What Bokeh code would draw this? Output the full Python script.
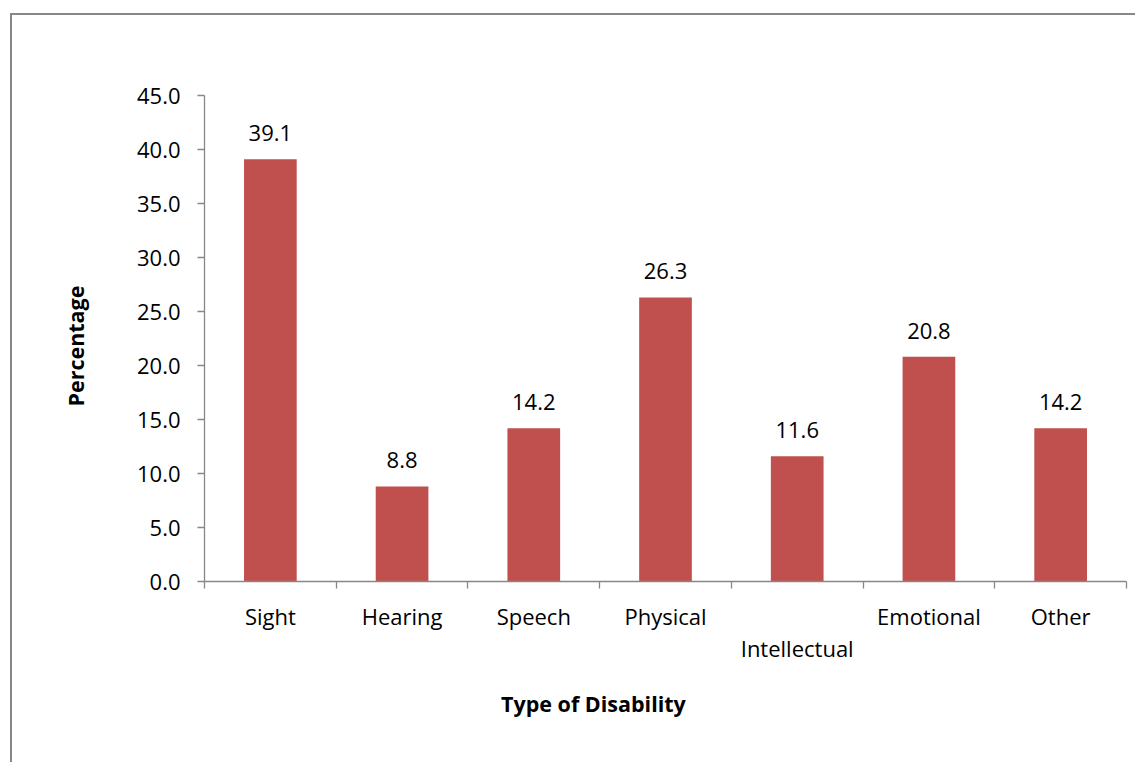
from bokeh.plotting import figure
from bokeh.models import (Range1d, FixedTicker, NumeralTickFormatter, ColumnDataSource, LinearAxis)
from bokeh.core.properties import value
from bokeh.embed import file_html
from bokeh.resources import INLINE

categories = ["Sight", "Hearing", "Speech", "Physical", "Intellectual", "Emotional", "Other"]
percentages = [39.1, 8.8, 14.2, 26.3, 11.6, 20.8, 14.2]
value_labels = ["39.1", "8.8", "14.2", "26.3", "11.6", "20.8", "14.2"]
y_ticks = [0, 5, 10, 15, 20, 25, 30, 35, 40, 45]
second_row = ["Intellectual"]
x_title = "Type of Disability"
y_title = "Percentage"

FONT = "Open Sans"
AXIS_COL = "#878787"

p = figure(width=1135, height=762, output_backend="svg", toolbar_location=None,
           x_range=Range1d(0, 7), y_range=Range1d(0, 45))
p.min_border_left = 204
p.min_border_right = 9
p.min_border_top = 95
p.min_border_bottom = 181
p.outline_line_color = None
p.background_fill_color = "white"
p.border_fill_color = None
p.xgrid.visible = False
p.ygrid.visible = False
# outer chart-area frame (only its left and top edges fall inside the picture)
p.styles = {
    "background-color": "white",
    "background-image": "linear-gradient(#878787, #878787), linear-gradient(#878787, #878787)",
    "background-repeat": "no-repeat, no-repeat",
    "background-position": "10px 13px, 10px 13px",
    "background-size": "2px 100%, 100% 2px",
}

xs = [i + 0.5 for i in range(len(categories))]
src = ColumnDataSource(dict(x=xs, top=percentages, lab=value_labels, cat=categories))
p.vbar(x="x", top="top", bottom=0, width=0.4, source=src, fill_color="#C0504D", line_color=None)

p.text(x="x", y="top", text="lab", source=src, text_align="center", text_baseline="alphabetic",
       y_offset=-26, text_font=value(FONT), text_font_size="22px", text_color="black")

# y axis
ya = p.yaxis[0]
ya.ticker = FixedTicker(ticks=y_ticks)
ya.formatter = NumeralTickFormatter(format="0.0")
ya.axis_line_color = AXIS_COL
ya.axis_line_width = 1.3
ya.major_tick_line_color = AXIS_COL
ya.major_tick_line_width = 1.3
ya.major_tick_out = 7
ya.major_tick_in = 0
ya.minor_tick_line_color = None
ya.major_label_text_font = FONT
ya.major_label_text_font_size = "22px"
ya.major_label_text_color = "black"
ya.major_label_standoff = 17

# x axis: boundary ticks only
xa = p.xaxis[0]
xa.ticker = FixedTicker(ticks=list(range(len(categories) + 1)))
xa.axis_line_color = AXIS_COL
xa.axis_line_width = 1.3
xa.major_tick_line_color = AXIS_COL
xa.major_tick_line_width = 1.3
xa.major_tick_out = 7
xa.major_tick_in = 0
xa.minor_tick_line_color = None
xa.major_label_text_font_size = "0px"
xa.major_label_standoff = 0
xa.major_label_text_color = None


def label_axis(positions, labels, standoff, bold=False, size="22px", orientation="horizontal"):
    ax = LinearAxis(ticker=FixedTicker(ticks=positions))
    ax.major_label_overrides = {x: c for x, c in zip(positions, labels)}
    ax.axis_line_color = None
    ax.major_tick_line_color = None
    ax.major_tick_out = 0
    ax.major_tick_in = 0
    ax.minor_tick_line_color = None
    ax.major_label_text_font = FONT
    ax.major_label_text_font_size = size
    ax.major_label_text_font_style = "bold" if bold else "normal"
    ax.major_label_text_color = "black"
    ax.major_label_standoff = standoff
    ax.major_label_orientation = orientation
    return ax

# category labels at the bar centres, Intellectual on a second row
row1 = label_axis(xs, [c if c not in second_row else "" for c in categories], 12)
row2 = label_axis(xs, [c if c in second_row else "" for c in categories], -1)
# x title, placed where the reference has it (left of the plot centre)
xt = label_axis([2.953], [x_title], 23, bold=True, size="21.5px")
p.add_layout(row1, "below")
p.add_layout(row2, "below")
p.add_layout(xt, "below")

# y title
yt = label_axis([21.8], [y_title], 43, bold=True, size="21.5px", orientation="vertical")
p.add_layout(yt, "left")

open("out.html", "w").write(file_html(p, INLINE))
